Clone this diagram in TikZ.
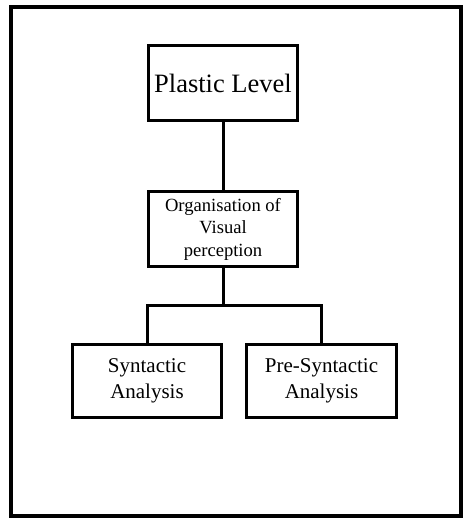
\documentclass[tikz,border=0pt]{standalone}
\usepackage{fontspec}
\setmainfont{Liberation Serif}
\begin{document}
\begin{tikzpicture}[x=1pt,y=-1pt,
  box/.style={draw, line width=3pt, inner sep=0pt, outer sep=0pt, align=center, minimum width=149pt},
  conn/.style={line width=3pt}]
\useasboundingbox (0,0) rectangle (463,518);
\draw[line width=4pt] (11,7) rectangle (461,516);
\node[box, minimum height=75pt, font=\fontsize{26.5}{32}\selectfont] (plastic) at (223,83.5) {Plastic Level};
\node[box, minimum height=74pt, font=\fontsize{18.6}{22.5}\selectfont] (org) at (223,229) {Organisation of\\Visual\\perception};
\node[box, minimum height=73pt, font=\fontsize{21}{26}\selectfont] (syn) at (147,380.5) {Syntactic\\Analysis};
\node[box, minimum height=73pt, minimum width=150pt, font=\fontsize{21}{26}\selectfont] (pre) at (321.5,380.5) {Pre-Syntactic\\Analysis};
\coordinate (j) at (223,305);
\draw[conn] (plastic.south) -- (org.north);
\draw[conn] (org.south) -- (j);
\draw[conn, line join=miter] (syn.north) |- (j) -| (pre.north);
\end{tikzpicture}
\end{document}
